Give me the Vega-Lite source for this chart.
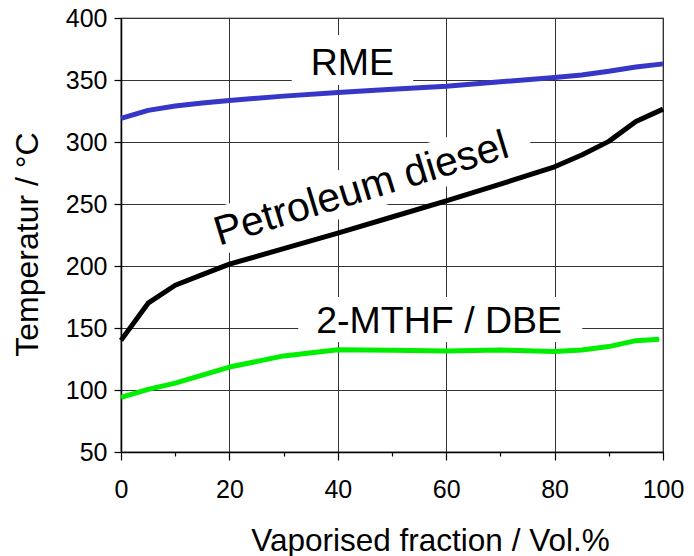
{
  "$schema": "https://vega.github.io/schema/vega-lite/v6.json",
  "width": 542,
  "height": 434,
  "autosize": {"type": "none"},
  "padding": {"left": 121, "top": 18, "right": 31, "bottom": 104},
  "background": "white",
  "config": {
    "font": "Liberation Sans",
    "view": {"stroke": "#000", "strokeWidth": 1.2},
    "axis": {
      "domainColor": "#000",
      "domainWidth": 1.5,
      "tickColor": "#000",
      "tickWidth": 1.2,
      "gridColor": "#333",
      "gridWidth": 1,
      "labelColor": "#000",
      "labelFontSize": 25,
      "labelFont": "Liberation Sans",
      "titleFont": "Liberation Sans",
      "titleColor": "#000",
      "titleFontWeight": "normal",
      "labelOverlap": false,
      "labelFlush": false
    }
  },
  "datasets": {
    "curves": [
      {"series": "RME", "x": 0, "y": 319},
      {"series": "RME", "x": 5, "y": 325.5},
      {"series": "RME", "x": 10, "y": 329},
      {"series": "RME", "x": 15, "y": 331.5},
      {"series": "RME", "x": 20, "y": 333.5},
      {"series": "RME", "x": 30, "y": 337},
      {"series": "RME", "x": 40, "y": 340},
      {"series": "RME", "x": 50, "y": 342.5},
      {"series": "RME", "x": 60, "y": 345},
      {"series": "RME", "x": 70, "y": 348.5},
      {"series": "RME", "x": 80, "y": 352},
      {"series": "RME", "x": 85, "y": 354},
      {"series": "RME", "x": 90, "y": 357},
      {"series": "RME", "x": 95, "y": 360.5},
      {"series": "RME", "x": 100, "y": 363},
      {"series": "Petroleum diesel", "x": 0, "y": 140},
      {"series": "Petroleum diesel", "x": 5, "y": 170},
      {"series": "Petroleum diesel", "x": 10, "y": 184.5},
      {"series": "Petroleum diesel", "x": 15, "y": 193},
      {"series": "Petroleum diesel", "x": 20, "y": 201.5},
      {"series": "Petroleum diesel", "x": 30, "y": 214},
      {"series": "Petroleum diesel", "x": 40, "y": 226.5},
      {"series": "Petroleum diesel", "x": 50, "y": 239.5},
      {"series": "Petroleum diesel", "x": 60, "y": 252.5},
      {"series": "Petroleum diesel", "x": 70, "y": 266},
      {"series": "Petroleum diesel", "x": 80, "y": 280},
      {"series": "Petroleum diesel", "x": 85, "y": 289.5},
      {"series": "Petroleum diesel", "x": 90, "y": 300.5},
      {"series": "Petroleum diesel", "x": 95, "y": 316.5},
      {"series": "Petroleum diesel", "x": 100, "y": 326.5},
      {"series": "2-MTHF / DBE", "x": 0, "y": 94},
      {"series": "2-MTHF / DBE", "x": 5, "y": 100.5},
      {"series": "2-MTHF / DBE", "x": 10, "y": 105.5},
      {"series": "2-MTHF / DBE", "x": 20, "y": 118.5},
      {"series": "2-MTHF / DBE", "x": 30, "y": 127.5},
      {"series": "2-MTHF / DBE", "x": 40, "y": 132.5},
      {"series": "2-MTHF / DBE", "x": 50, "y": 132},
      {"series": "2-MTHF / DBE", "x": 60, "y": 131.5},
      {"series": "2-MTHF / DBE", "x": 70, "y": 132.3},
      {"series": "2-MTHF / DBE", "x": 80, "y": 131},
      {"series": "2-MTHF / DBE", "x": 85, "y": 132.3},
      {"series": "2-MTHF / DBE", "x": 90, "y": 135},
      {"series": "2-MTHF / DBE", "x": 95, "y": 139.8},
      {"series": "2-MTHF / DBE", "x": 99.3, "y": 141}
    ],
    "boxes": [
      {"label": "RME", "x": 31.5, "x2": 53.9, "y": 346, "y2": 386.3},
      {"label": "2-MTHF / DBE", "x": 32.7, "x2": 85.1, "y": 138.7, "y2": 175}
    ],
    "rotbox": [
      {"label": "Petroleum diesel", "x": 44.3, "y": 263}
    ],
    "labels": [
      {"label": "RME", "x": 42.7, "y": 354},
      {"label": "2-MTHF / DBE", "x": 58.7, "y": 146}
    ],
    "rotlabels": [
      {"label": "Petroleum diesel", "x": 45.0, "y": 252.4}
    ]
  },
  "layer": [
    {
      "data": {"name": "boxes"},
      "mark": {"type": "rect", "fill": "white", "strokeWidth": 0},
      "encoding": {
        "x": {
          "field": "x",
          "type": "quantitative",
          "scale": {"domain": [0, 100], "nice": false, "zero": false},
          "axis": {
            "title": "Vaporised fraction / Vol.%",
            "values": [0, 10, 20, 30, 40, 50, 60, 70, 80, 90, 100],
            "labelExpr": "datum.value % 20 === 0 ? datum.label : ''",
            "grid": true,
            "gridOpacity": {"condition": {"test": "datum.value % 20 !== 0", "value": 0}, "value": 1},
            "tickSize": {"condition": {"test": "datum.value % 20 !== 0", "value": 4}, "value": 8},
            "labelPadding": 17,
            "titleFontSize": 31.5,
            "titleX": 309,
            "titleY": 98,
            "titleAlign": "center",
            "titleBaseline": "alphabetic"
          }
        },
        "x2": {"field": "x2"},
        "y": {
          "field": "y",
          "type": "quantitative",
          "scale": {"domain": [50, 400], "nice": false, "zero": false},
          "axis": {
            "title": "Temperatur / °C",
            "values": [50, 75, 100, 125, 150, 175, 200, 225, 250, 275, 300, 325, 350, 375, 400],
            "labelExpr": "datum.value % 50 === 0 ? datum.label : ''",
            "grid": true,
            "gridOpacity": {"condition": {"test": "datum.value % 50 !== 0", "value": 0}, "value": 1},
            "tickSize": {"condition": {"test": "datum.value % 50 !== 0", "value": 4}, "value": 7},
            "labelPadding": 7,
            "titleFontSize": 32,
            "titleAngle": -90,
            "titleX": -84,
            "titleY": 226,
            "titleAlign": "center",
            "titleBaseline": "alphabetic"
          }
        },
        "y2": {"field": "y2"}
      }
    },
    {
      "data": {"name": "rotbox"},
      "mark": {
        "type": "point",
        "shape": "M-1,-0.135L1,-0.135L1,0.135L-1,0.135Z",
        "size": 122500,
        "angle": -17,
        "filled": true,
        "fill": "white",
        "opacity": 1,
        "strokeWidth": 0
      },
      "encoding": {
        "x": {"field": "x", "type": "quantitative"},
        "y": {"field": "y", "type": "quantitative"}
      }
    },
    {
      "data": {"name": "curves"},
      "mark": {"type": "line", "strokeWidth": 5, "strokeCap": "butt", "strokeJoin": "round"},
      "encoding": {
        "x": {"field": "x", "type": "quantitative"},
        "y": {"field": "y", "type": "quantitative"},
        "color": {
          "field": "series",
          "type": "nominal",
          "scale": {"domain": ["RME", "Petroleum diesel", "2-MTHF / DBE"], "range": ["#3636c8", "#000000", "#00ee00"]},
          "legend": null
        }
      }
    },
    {
      "data": {"name": "labels"},
      "mark": {"type": "text", "fontSize": 37.5, "align": "center", "baseline": "alphabetic", "color": "#000", "font": "Liberation Sans"},
      "encoding": {
        "x": {"field": "x", "type": "quantitative"},
        "y": {"field": "y", "type": "quantitative"},
        "text": {"field": "label"}
      }
    },
    {
      "data": {"name": "rotlabels"},
      "mark": {"type": "text", "fontSize": 41, "angle": -17, "align": "center", "baseline": "alphabetic", "color": "#000", "font": "Liberation Sans"},
      "encoding": {
        "x": {"field": "x", "type": "quantitative"},
        "y": {"field": "y", "type": "quantitative"},
        "text": {"field": "label"}
      }
    }
  ]
}
